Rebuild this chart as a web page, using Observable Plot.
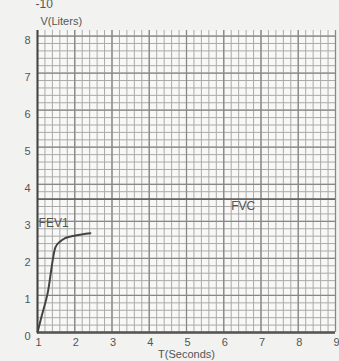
<!DOCTYPE html>
<html>
<head>
<meta charset="utf-8">
<script src="https://cdn.jsdelivr.net/npm/d3@7"></script>
<script src="https://cdn.jsdelivr.net/npm/@observablehq/plot@0.6"></script>
<style>
  html, body { margin: 0; padding: 0; background: #f2f2f0; }
  #chart svg { display: block; }
</style>
</head>
<body>
<div id="chart"></div>
<script>
// Data
const timeTicks = [1, 2, 3, 4, 5, 6, 7, 8, 9];
const volumeTicks = [0, 1, 2, 3, 4, 5, 6, 7, 8];
const fevTime = [1.0, 1.1, 1.27, 1.48, 1.6, 1.75, 2.02, 2.42];
const fevVolume = [0, 0.4, 1.05, 2.3, 2.45, 2.55, 2.62, 2.68];
const fvcValue = 3.6;
const labels = ["FEV1", "FVC"];
const labelT = [1.03, 6.2];
const labelV = [2.95, 3.4];

const curve = fevTime.map((t, i) => ({t, v: fevVolume[i]}));
const minorX = d3.range(1, 9.001, 0.2);
const minorY = d3.range(0, 8.15, 0.2);
const annot = labels.map((s, i) => ({s, t: labelT[i], v: labelV[i]}));

const chart = Plot.plot({
  width: 339,
  height: 361,
  marginLeft: 37,
  marginRight: 4,
  marginTop: 30,
  marginBottom: 29,
  style: {background: "#f2f2f0", fontFamily: "Liberation Sans, Arial, sans-serif", fontSize: "11px", color: "#555"},
  x: {domain: [1, 9]},
  y: {domain: [0, 8.15]},
  marks: [
    Plot.frame({fill: "#f8f8f7", stroke: "none"}),
    Plot.ruleX(minorX, {stroke: "#aaa", strokeWidth: 1}),
    Plot.ruleY(minorY, {stroke: "#aaa", strokeWidth: 1}),
    Plot.ruleX(timeTicks, {stroke: "#888", strokeWidth: 1.3}),
    Plot.ruleY(volumeTicks, {stroke: "#888", strokeWidth: 1.3}),
    Plot.ruleY([fvcValue], {stroke: "#666", strokeWidth: 1.8}),
    Plot.ruleY([0], {stroke: "#555", strokeWidth: 2.5}),
    Plot.ruleX([1], {stroke: "#444", strokeWidth: 2}),
    Plot.line(curve, {x: "t", y: "v", stroke: "#444", strokeWidth: 2, curve: "monotone-x"}),
    Plot.text(annot, {x: "t", y: "v", text: "s", textAnchor: "start", fill: "#555", fontSize: 12}),
    Plot.axisX(timeTicks, {tickSize: 0, tickPadding: 6, dx: 1, fill: "#555", label: null, fontSize: 11}),
    Plot.axisY(volumeTicks, {tickSize: 0, tickPadding: 7, dy: 4, fill: "#555", label: null, fontSize: 11}),
    Plot.text(["T(Seconds)"], {frameAnchor: "bottom", dy: 25, fill: "#555", fontSize: 11}),
    Plot.text(["V(Liters)"], {frameAnchor: "top-left", dx: 3, dy: -13, fill: "#555", fontSize: 11, textAnchor: "start"}),
    Plot.text(["-10"], {frameAnchor: "top-left", dx: -2, dy: -31, fill: "#555", fontSize: 12, textAnchor: "start"})
  ]
});
document.getElementById("chart").appendChild(chart);
</script>
</body>
</html>
